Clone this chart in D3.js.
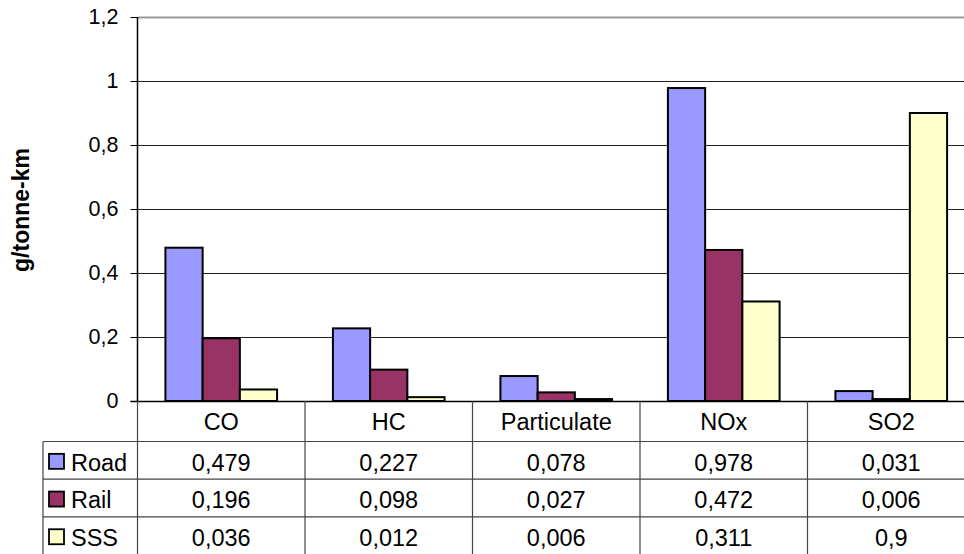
<!DOCTYPE html>
<html>
<head>
<meta charset="utf-8">
<script src="https://cdn.jsdelivr.net/npm/d3@7"></script>
<style>
  html, body { margin: 0; padding: 0; background: #fff; }
  svg { display: block; font-family: "Liberation Sans", Arial, sans-serif; }
</style>
</head>
<body>
<svg id="chart" width="964" height="554"></svg>
<script>
// Emission factors by pollutant and transport mode
const categories = ["CO", "HC", "Particulate", "NOx", "SO2"];
const seriesNames = ["Road", "Rail", "SSS"];
const road = [0.479, 0.227, 0.078, 0.978, 0.031];
const rail = [0.196, 0.098, 0.027, 0.472, 0.006];
const sss  = [0.036, 0.012, 0.006, 0.311, 0.9];
const yTicks = [0, 0.2, 0.4, 0.6, 0.8, 1, 1.2];
const yTitle = "g/tonne-km";

const seriesValues = [road, rail, sss];
const colors = ["#9999FF", "#993366", "#FFFFCC"];
const fmt = v => String(v).replace(".", ",");

const svg = d3.select("#chart");
const plotLeft = 137.5, plotRight = 975, plotTop = 17, plotBottom = 401;
const rowH = 37.7, headerBottom = 441.5, legendLeft = 43;
const tableFont = 23.5;

const x = d3.scaleBand().domain(categories).range([plotLeft, plotRight]).paddingInner(0).paddingOuter(0);
const xs = d3.scaleBand().domain(seriesNames).range([0, x.bandwidth()]).paddingInner(0).paddingOuter(0.75);
const y = d3.scaleLinear().domain([0, 1.2]).range([plotBottom, plotTop]);

// horizontal gridlines
svg.append("g").selectAll("line").data(yTicks.filter(t => t > 0)).join("line")
  .attr("x1", plotLeft).attr("x2", 964)
  .attr("y1", d => Math.round(y(d)) + 0.5).attr("y2", d => Math.round(y(d)) + 0.5)
  .attr("stroke", d => d === 1.2 ? "#999" : "#222")
  .attr("stroke-width", d => d === 1.2 ? 2 : 1);

// y axis
const yAxis = d3.axisLeft(y).tickValues(yTicks).tickSize(7).tickPadding(12).tickFormat(fmt);
const ya = svg.append("g").attr("transform", `translate(${plotLeft},0)`).call(yAxis);
ya.select(".domain").attr("stroke", "#000").attr("stroke-width", 1.5).attr("d", `M0,${plotTop}V${plotBottom}`);
ya.selectAll(".tick line").attr("stroke", "#000");
ya.selectAll(".tick text").attr("font-size", 21.5).attr("fill", "#000")
  .attr("font-family", "Liberation Sans, Arial, sans-serif");

// axis title
svg.append("text")
  .attr("transform", `translate(29,${210}) rotate(-90)`)
  .attr("text-anchor", "middle")
  .attr("font-weight", "bold").attr("font-size", 23)
  .text(yTitle);

// bars
const groups = svg.append("g").selectAll("g").data(seriesNames).join("g")
  .attr("fill", (d, i) => colors[i]);
groups.selectAll("rect")
  .data((s, i) => categories.map((c, j) => ({ s, c, v: seriesValues[i][j] })))
  .join("rect")
  .attr("x", d => x(d.c) + xs(d.s))
  .attr("width", xs.bandwidth())
  .attr("y", d => y(d.v))
  .attr("height", d => y(0) - y(d.v))
  .attr("stroke", "#000").attr("stroke-width", 2);

// x axis baseline
svg.append("line").attr("x1", plotLeft - 7).attr("x2", 964)
  .attr("y1", plotBottom + 0.5).attr("y2", plotBottom + 0.5).attr("stroke", "#000").attr("stroke-width", 1.5);

// data table grid
const tbl = svg.append("g").attr("stroke", "#444").attr("stroke-width", 1.2);
const rowTops = d3.range(3).map(i => headerBottom + i * rowH);
tbl.selectAll("line.h").data(rowTops).join("line")
  .attr("x1", legendLeft).attr("x2", 964)
  .attr("y1", d => d).attr("y2", d => d);
tbl.append("line").attr("x1", legendLeft).attr("x2", legendLeft)
  .attr("y1", headerBottom).attr("y2", 554);
tbl.append("g").selectAll("line").data(categories).join("line")
  .attr("x1", d => x(d)).attr("x2", d => x(d))
  .attr("y1", plotBottom).attr("y2", 554);

// category header
svg.append("g").selectAll("text").data(categories).join("text")
  .attr("x", d => x(d) + x.bandwidth() / 2)
  .attr("y", (plotBottom + headerBottom) / 2 + 1)
  .attr("dy", "0.35em").attr("text-anchor", "middle").attr("font-size", tableFont)
  .text(d => d);

// value rows
seriesNames.forEach((s, i) => {
  const cy = rowTops[i] + rowH / 2;
  svg.append("rect")
    .attr("x", 49).attr("y", cy - 6.5).attr("width", 15).attr("height", 15)
    .attr("fill", colors[i]).attr("stroke", "#000").attr("stroke-width", 1.8);
  svg.append("text").attr("x", 71).attr("y", cy + 2).attr("dy", "0.35em")
    .attr("font-size", tableFont).text(s);
  svg.append("g").selectAll("text").data(seriesValues[i]).join("text")
    .attr("x", (d, j) => x(categories[j]) + x.bandwidth() / 2)
    .attr("y", cy + 2).attr("dy", "0.35em")
    .attr("text-anchor", "middle").attr("font-size", tableFont)
    .text(d => fmt(d));
});
</script>
</body>
</html>
